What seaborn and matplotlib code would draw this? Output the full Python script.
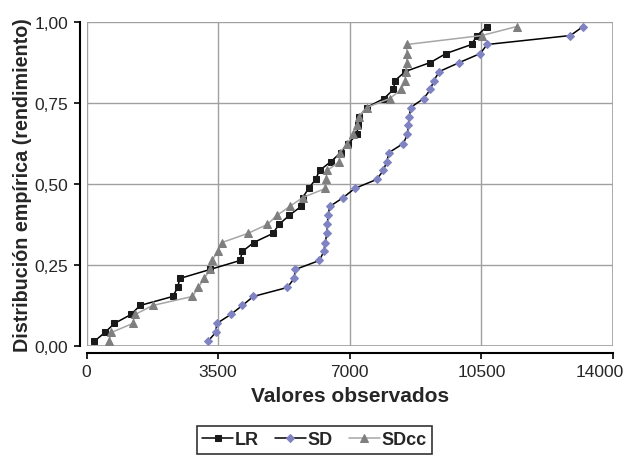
import matplotlib.pyplot as plt
import matplotlib.patches as mpatches
import matplotlib.transforms as mtransforms
import pandas as pd
import seaborn as sns

# empirical distribution levels (same for the three series)
ecdf_y = [0.0139, 0.0417, 0.0694, 0.0972, 0.1250, 0.1528, 0.1806, 0.2083, 0.2361,
          0.2639, 0.2917, 0.3194, 0.3472, 0.3750, 0.4028, 0.4306, 0.4583, 0.4861,
          0.5139, 0.5417, 0.5694, 0.5972, 0.6250, 0.6528, 0.6806, 0.7083, 0.7361,
          0.7639, 0.7917, 0.8194, 0.8472, 0.8750, 0.9028, 0.9306, 0.9583, 0.9861]

lr_x = [200, 492, 739, 1184, 1423, 2293, 2426, 2479, 3285, 4083, 4144, 4447,
        4952, 5120, 5386, 5705, 5750, 5904, 6090, 6197, 6502, 6763, 6955, 7194,
        7215, 7253, 7447, 7912, 8160, 8205, 8476, 9144, 9561, 10239, 10386, 10652]

sd_x = [3223, 3436, 3463, 3835, 4144, 4436, 5341, 5519, 5553, 6192, 6311, 6343,
        6396, 6404, 6423, 6468, 6830, 7128, 7713, 7894, 7984, 8045, 8425, 8532,
        8558, 8585, 8617, 8968, 9144, 9236, 9383, 9915, 10473, 10651, 12867, 13205]

sdcc_x = [598, 660, 1229, 1290, 1761, 2814, 2973, 3133, 3285, 3338, 3489, 3604,
          4282, 4809, 5058, 5404, 5750, 6351, 6362, 6404, 6723, 6734, 6936, 7088,
          7202, 7247, 7452, 8064, 8372, 8471, 8484, 8516, 8516, 8516, 10513, 11441]

series_names = ["LR", "SD", "SDcc"]
x_ticks = [0, 3500, 7000, 10500, 14000]
y_ticks = [0.0, 0.25, 0.5, 0.75, 1.0]
y_tick_labels = ["0,00", "0,25", "0,50", "0,75", "1,00"]

df = pd.DataFrame({
    "x": lr_x + sd_x + sdcc_x,
    "y": ecdf_y * 3,
    "serie": [n for n in series_names for _ in range(len(ecdf_y))],
})

sns.set_style("white")
plt.rcParams["font.family"] = ["Liberation Sans", "DejaVu Sans"]

fig = plt.figure(figsize=(6.25, 4.64), dpi=100)
ax = fig.add_axes([0.1384, 0.2522, 0.8424, 0.6982])

styles = {
    "LR": dict(color="black", marker="s", markersize=5, markerfacecolor="#1a1a1a",
               markeredgecolor="#1a1a1a", linewidth=1.1),
    "SD": dict(color="black", marker="D", markersize=4.2, markerfacecolor="#7f83c2",
               markeredgecolor="#7f83c2", linewidth=1.1),
    "SDcc": dict(color="#a6a6a6", marker="^", markersize=6, markerfacecolor="#7f7f7f",
                 markeredgecolor="#7f7f7f", linewidth=1.1),
}
for name in series_names:
    sub = df[df.serie == name]
    sns.lineplot(data=sub, x="x", y="y", estimator=None, sort=False, ax=ax,
                 label=name, **styles[name])

ax.set_xlim(0, 14000)
ax.set_ylim(0, 1)
ax.set_xticks(x_ticks)
ax.set_xticklabels([str(t) for t in x_ticks])
ax.set_yticks(y_ticks)
ax.set_yticklabels(y_tick_labels)
ax.grid(True, color="#a0a0a0", linewidth=1)

# grey plot-area frame, black axes offset outside it
ax.add_patch(mpatches.Rectangle((0, 0), 1, 1, transform=ax.transAxes, fill=False,
                                edgecolor="#a0a0a0", linewidth=1.2, zorder=1))
for s in ["top", "right"]:
    ax.spines[s].set_visible(False)
for s in ["left", "bottom"]:
    ax.spines[s].set_position(("outward", 5))
    ax.spines[s].set_color("black")
    ax.spines[s].set_linewidth(1.5)
ax.tick_params(axis="both", direction="out", length=4, width=1.2, color="black",
               labelsize=12.5, pad=4, left=True, bottom=True)

# last x label sits against the right border of the image
last = ax.get_xticklabels()[-1]
last.set_horizontalalignment("right")
last.set_transform(last.get_transform() +
                   mtransforms.ScaledTranslation(11 / 100, 0, fig.dpi_scale_trans))

ax.set_xlabel("Valores observados", fontsize=15, fontweight="bold", labelpad=5)
ax.set_ylabel("Distribución empírica (rendimiento)", fontsize=14.2, fontweight="bold",
              labelpad=2)

handles, labels = ax.get_legend_handles_labels()
if ax.get_legend() is not None:
    ax.get_legend().remove()
leg = fig.legend(handles, labels, loc="center", bbox_to_anchor=(0.503, 0.0496),
                 ncol=3, frameon=True, fancybox=False, edgecolor="black",
                 prop={"weight": "bold", "size": 13}, handlelength=1.7,
                 handletextpad=0.1, columnspacing=0.9, borderpad=0.3,
                 borderaxespad=0)
leg.get_frame().set_linewidth(1.2)

fig.savefig("out.png", dpi=100)
